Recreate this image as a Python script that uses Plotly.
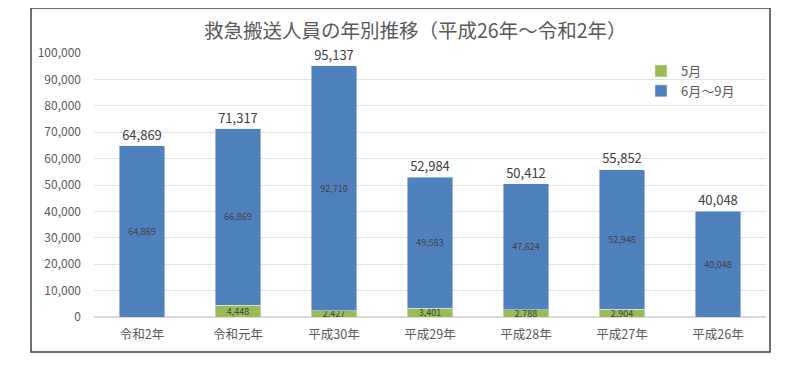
import plotly.graph_objects as go

categories = ["令和2年", "令和元年", "平成30年", "平成29年", "平成28年", "平成27年", "平成26年"]
may = [0, 4448, 2427, 3401, 2788, 2904, 0]
jun_sep = [64869, 66869, 92710, 49583, 47624, 52948, 40048]
totals = [m + j for m, j in zip(may, jun_sep)]
y_ticks = list(range(0, 100001, 10000))

FONT = "Noto Sans CJK JP"
GRAY = "#595959"

def fmt(v):
    return f"{v:,}" if v else ""

fig = go.Figure()
fig.add_trace(go.Bar(
    x=categories, y=may, name="5月", marker_color="#9BBB59",
    text=[fmt(v) for v in may], textposition="inside", insidetextanchor="middle",
    textfont=dict(size=9, color="#404040", family=FONT), width=0.47,
    hoverinfo="x+y",
))
fig.add_trace(go.Bar(
    x=categories, y=jun_sep, name="6月～9月", marker_color="#4F81BD",
    text=[fmt(v) for v in jun_sep], textposition="inside", insidetextanchor="middle",
    textfont=dict(size=9, color="#404040", family=FONT), width=0.47,
    hoverinfo="x+y",
))
fig.add_trace(go.Scatter(
    x=categories, y=totals, mode="markers+text", text=[f"{v:,}" for v in totals],
    marker=dict(size=3, color="rgba(0,0,0,0)"),
    textposition="top center", textfont=dict(size=13, color="#404040", family=FONT),
    showlegend=False, cliponaxis=False, hoverinfo="skip",
))

OFF = 8  # page body offset
W, H = 800, 372
L = 94 - OFF
T = 53 - OFF
R = W - (766 - OFF)
B = H - (317 - OFF)
pw, ph = W - L - R, H - T - B

def px(x):
    return (x - OFF - L) / pw

def py(y):
    return (H - B - (y - OFF)) / ph

fig.update_layout(
    width=W, height=H,
    margin=dict(l=L, r=R, t=T, b=B),
    barmode="stack",
    plot_bgcolor="white", paper_bgcolor="white",
    font=dict(family=FONT, color=GRAY, size=12),
    uniformtext=dict(minsize=9, mode="show"),
    legend=dict(x=px(641), y=py(56), xanchor="left", yanchor="top",
                traceorder="normal", font=dict(size=13, color=GRAY, family=FONT),
                bgcolor="rgba(0,0,0,0)", itemwidth=30),
    xaxis=dict(showline=False, ticks="", tickfont=dict(size=12.5, color=GRAY),
               ticklabelstandoff=8),
    yaxis=dict(range=[0, 100000], tickvals=y_ticks, tickformat=",",
               showgrid=True, gridcolor="#E3E3E3", zeroline=True, zerolinecolor="#D9D9D9",
               tickfont=dict(size=12, color=GRAY), ticklabelstandoff=12),
    shapes=[dict(type="rect", xref="paper", yref="paper",
                 x0=px(31), x1=px(770), y0=py(352), y1=py(8),
                 line=dict(color="#404040", width=1.5), layer="below")],
    annotations=[dict(text="救急搬送人員の年別推移（平成26年～令和2年）", xref="paper", yref="paper",
                      x=px(415), y=py(29), xanchor="center", yanchor="middle", showarrow=False,
                      font=dict(size=19.5, color=GRAY, family=FONT))],
)

fig.write_html("out.html")
